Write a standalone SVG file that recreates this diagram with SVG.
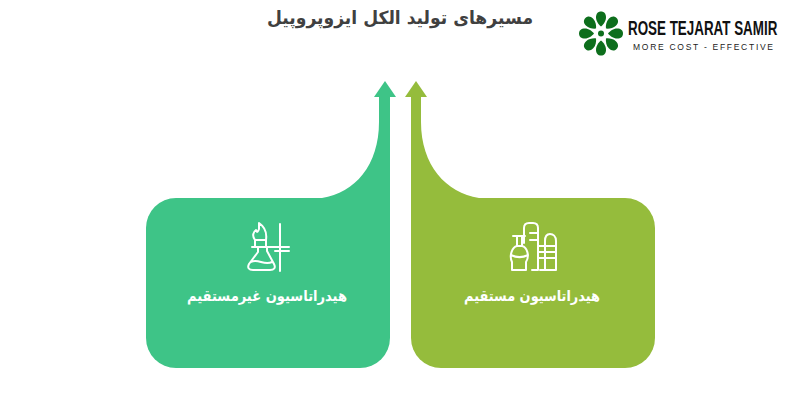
<svg xmlns="http://www.w3.org/2000/svg" width="800" height="400" viewBox="0 0 800 400">
<style>
.ic{fill:none;stroke:#fff;stroke-width:2;stroke-linecap:round;stroke-linejoin:round}
.lb{font-family:"DejaVu Sans","Noto Sans",sans-serif;font-weight:bold;fill:#fff;font-size:15px;text-anchor:middle}
.ti{font-family:"DejaVu Sans","Noto Sans",sans-serif;font-weight:bold;fill:#404040;font-size:18px;text-anchor:middle}
</style>
<defs>
<path id="p" d="M0-7C-2.500-9-5-12.500-5-16C-5-20-3-22 0-22C3-22 5-20 5-16C5-12.500 2.500-9 0-7Z" fill="#0d6e1c"/>
</defs>
<rect width="800" height="400" fill="#fff"/>
<text class="ti" x="400" y="24" direction="rtl" textLength="266" lengthAdjust="spacingAndGlyphs">مسیرهای تولید الکل ایزوپروپیل</text>
<g id="logo">
<g transform="translate(601,33.500)">
<use href="#p"/><use href="#p" transform="rotate(45)"/><use href="#p" transform="rotate(90)"/><use href="#p" transform="rotate(135)"/><use href="#p" transform="rotate(180)"/><use href="#p" transform="rotate(225)"/><use href="#p" transform="rotate(270)"/><use href="#p" transform="rotate(315)"/>
<circle r="3" fill="#0d6e1c"/>
</g>
<text transform="translate(628,35) scale(.638,1)" font-family="'Liberation Sans',sans-serif" font-weight="bold" font-size="21" fill="#111">ROSE TEJARAT SAMIR</text>
<text x="633" y="50" font-family="'Liberation Sans',sans-serif" font-size="8.500" fill="#222" letter-spacing="1.720">MORE COST - EFFECTIVE</text>
</g>
<g id="connectors">
<path id="arrow-left" fill="#3ec487" d="M385 81L396 97H390V198H322C355 193 379 165 379 122V97H374Z"/>
<path id="arrow-right" fill="#95bc3c" d="M416 81L405 97H411V198H479C446 193 421 165 421 122V97H427Z"/>
</g>
<g id="node-indirect">
<path fill="#3ec487" d="M176 198H390V338A30 30 0 0 1 360 368H176A30 30 0 0 1 146 338V228A30 30 0 0 1 176 198Z"/>
<g class="ic">
<path d="M259 223C265 227 267 233 266 240H255C252 236 253 232 256 230C257 233 258 232 259 229Z"/>
<path d="M255 240V247M266 240V247M252 247H289M275 251H289M280 224V271"/>
<path d="M258 247V252L249 264C247 268 249 270 253 270H270C274 270 276 268 274 264L267 251V247M251 262C258 258 264 266 272 262"/>
</g>
<text class="lb" x="267" y="301" direction="rtl" textLength="160" lengthAdjust="spacingAndGlyphs">هیدراتاسیون غیرمستقیم</text>
</g>
<g id="node-direct">
<path fill="#95bc3c" d="M411 198H625A30 30 0 0 1 655 228V338A30 30 0 0 1 625 368H441A30 30 0 0 1 411 338Z"/>
<g class="ic">
<path d="M524 243V228C524 225 526 223 529 223H533C536 223 538 225 538 228V270H532"/>
<path d="M530 233H538M530 240H538"/>
<path d="M540 270H556V241C556 236 553 234 550 234C547 234 545 236 545 241V270M539 246H556M539 252H556M539 258H556"/>
<path d="M513 236H525M517 236V246M522 236V246"/>
<path d="M512 270V262C509 256 512 247 517 246H522C527 247 530 256 526 262V270ZM511 255C517 258 522 258 528 255"/>
</g>
<text class="lb" x="532" y="301" direction="rtl" textLength="136" lengthAdjust="spacingAndGlyphs">هیدراتاسیون مستقیم</text>
</g>
</svg>
